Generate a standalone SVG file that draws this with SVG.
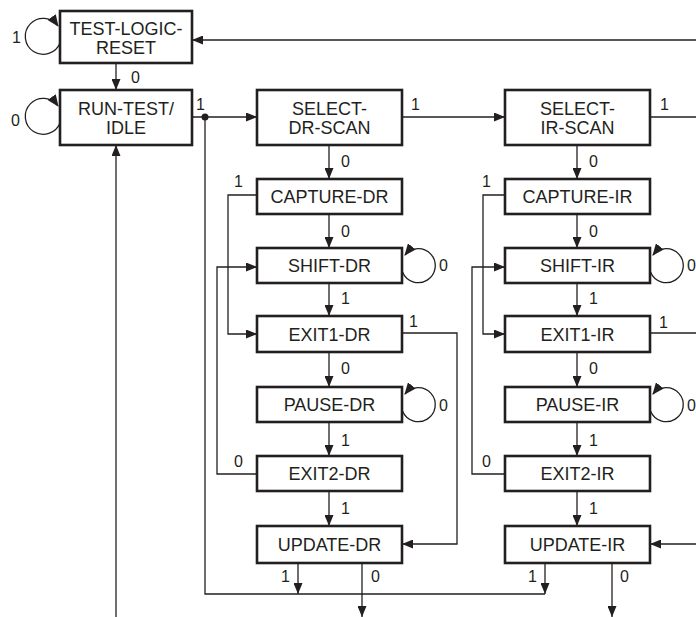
<svg xmlns="http://www.w3.org/2000/svg" width="696" height="617" viewBox="0 0 696 617">
<style>
.box{fill:#fff;stroke:#231f20;stroke-width:2.6}
.t{font-family:"Liberation Sans",Arial,sans-serif;font-size:18px;fill:#231f20;text-anchor:middle}
.l{font-family:"Liberation Sans",Arial,sans-serif;font-size:16px;fill:#231f20}
.c{fill:none;stroke:#231f20;stroke-width:1.3}
</style>
<defs>
<marker id="a" markerUnits="userSpaceOnUse" markerWidth="11" markerHeight="9" refX="11" refY="4.5" orient="auto">
<path d="M0,0 L11,4.5 L0,9 z" fill="#231f20"/>
</marker>
<marker id="b" markerUnits="userSpaceOnUse" markerWidth="12" markerHeight="10" refX="11" refY="5" orient="auto">
<path d="M0,0 L12,5 L0,10 z" fill="#231f20"/>
</marker>
</defs>
<rect width="696" height="617" fill="#fff"/>
<g id="connectors">
<!-- self loops -->
<path class="c" d="M60,43 A18 18 0 1 1 58,26" marker-end="url(#b)"/>
<path class="c" d="M60,123 A18 18 0 1 1 58,106" marker-end="url(#b)"/>
<path class="c" d="M402.5,272 A17 17 0 1 0 405,255" marker-end="url(#b)"/>
<path class="c" d="M402.5,411 A17 17 0 1 0 405,394" marker-end="url(#b)"/>
<path class="c" d="M650.5,272 A17 17 0 1 0 653,255" marker-end="url(#b)"/>
<path class="c" d="M650.5,411 A17 17 0 1 0 653,394" marker-end="url(#b)"/>
<!-- TLR -> RTI -->
<path class="c" d="M116,63 V90" marker-end="url(#a)"/>
<!-- top return -->
<path class="c" d="M696,40 H192" marker-end="url(#a)"/>
<!-- RTI -> SELECT-DR -->
<path class="c" d="M192,117 H257" marker-end="url(#a)"/>
<circle cx="205" cy="117" r="3.5" fill="#231f20"/>
<path class="c" d="M205,117 V594 H545"/>
<!-- SELECT-DR -> SELECT-IR -->
<path class="c" d="M402,117 H505" marker-end="url(#a)"/>
<path class="c" d="M650,117 H696"/>
<!-- DR column -->
<path class="c" d="M329,145 V179" marker-end="url(#a)"/>
<path class="c" d="M329,214 V248" marker-end="url(#a)"/>
<path class="c" d="M329,283 V316" marker-end="url(#a)"/>
<path class="c" d="M329,352 V387" marker-end="url(#a)"/>
<path class="c" d="M329,422 V456" marker-end="url(#a)"/>
<path class="c" d="M329,491 V526" marker-end="url(#a)"/>
<path class="c" d="M257,195 H228 V334 H257" marker-end="url(#a)"/>
<path class="c" d="M257,474 H217 V267 H257" marker-end="url(#a)"/>
<path class="c" d="M402,333 H457 V544 H402" marker-end="url(#a)"/>
<path class="c" d="M298,563 V594" marker-end="url(#a)"/>
<path class="c" d="M362,563 V617" marker-end="url(#a)"/>
<!-- IR column -->
<path class="c" d="M577,145 V179" marker-end="url(#a)"/>
<path class="c" d="M577,214 V248" marker-end="url(#a)"/>
<path class="c" d="M577,283 V316" marker-end="url(#a)"/>
<path class="c" d="M577,352 V387" marker-end="url(#a)"/>
<path class="c" d="M577,422 V456" marker-end="url(#a)"/>
<path class="c" d="M577,491 V526" marker-end="url(#a)"/>
<path class="c" d="M505,195 H483 V334 H505" marker-end="url(#a)"/>
<path class="c" d="M505,474 H472 V267 H505" marker-end="url(#a)"/>
<path class="c" d="M650,333 H696"/>
<path class="c" d="M696,544 H650" marker-end="url(#a)"/>
<path class="c" d="M545,563 V594" marker-end="url(#a)"/>
<path class="c" d="M612,563 V617" marker-end="url(#a)"/>
<!-- return to RTI -->
<path class="c" d="M116,617 V145" marker-end="url(#a)"/>
<!-- labels -->
<text class="l" x="12" y="43">1</text>
<text class="l" x="11" y="126">0</text>
<text class="l" x="131" y="83">0</text>
<text class="l" x="196" y="110">1</text>
<text class="l" x="411" y="110">1</text>
<text class="l" x="660" y="110">1</text>
<text class="l" x="341" y="167">0</text>
<text class="l" x="341" y="237">0</text>
<text class="l" x="341" y="304">1</text>
<text class="l" x="341" y="374">0</text>
<text class="l" x="341" y="446">1</text>
<text class="l" x="341" y="514">1</text>
<text class="l" x="589" y="167">0</text>
<text class="l" x="589" y="237">0</text>
<text class="l" x="589" y="304">1</text>
<text class="l" x="589" y="374">0</text>
<text class="l" x="589" y="446">1</text>
<text class="l" x="589" y="514">1</text>
<text class="l" x="439" y="271">0</text>
<text class="l" x="439" y="411">0</text>
<text class="l" x="687" y="271">0</text>
<text class="l" x="687" y="411">0</text>
<text class="l" x="234" y="187">1</text>
<text class="l" x="482" y="187">1</text>
<text class="l" x="234" y="467">0</text>
<text class="l" x="482" y="467">0</text>
<text class="l" x="409" y="327">1</text>
<text class="l" x="659" y="328">1</text>
<text class="l" x="281" y="582">1</text>
<text class="l" x="371" y="582">0</text>
<text class="l" x="528" y="582">1</text>
<text class="l" x="620" y="582">0</text>
</g>
<g id="test-logic-reset"><rect class="box" x="60" y="11" width="132" height="52"/><text class="t" x="126" y="34.5">TEST-LOGIC-</text><text class="t" x="126" y="53.5">RESET</text></g>
<g id="run-test-idle"><rect class="box" x="60" y="90" width="132" height="55"/><text class="t" x="126" y="115">RUN-TEST/</text><text class="t" x="126" y="134">IDLE</text></g>
<g id="select-dr-scan"><rect class="box" x="257" y="90" width="145" height="55"/><text class="t" x="329.5" y="115">SELECT-</text><text class="t" x="329.5" y="134">DR-SCAN</text></g>
<g id="capture-dr"><rect class="box" x="257" y="179" width="145" height="35"/><text class="t" x="329.5" y="203">CAPTURE-DR</text></g>
<g id="shift-dr"><rect class="box" x="257" y="248" width="145" height="35"/><text class="t" x="329.5" y="272">SHIFT-DR</text></g>
<g id="exit1-dr"><rect class="box" x="257" y="316" width="145" height="36"/><text class="t" x="329.5" y="340.5">EXIT1-DR</text></g>
<g id="pause-dr"><rect class="box" x="257" y="387" width="145" height="35"/><text class="t" x="329.5" y="411">PAUSE-DR</text></g>
<g id="exit2-dr"><rect class="box" x="257" y="456" width="145" height="35"/><text class="t" x="329.5" y="480">EXIT2-DR</text></g>
<g id="update-dr"><rect class="box" x="257" y="526" width="145" height="37"/><text class="t" x="329.5" y="551">UPDATE-DR</text></g>
<g id="select-ir-scan"><rect class="box" x="505" y="90" width="145" height="55"/><text class="t" x="577.5" y="115">SELECT-</text><text class="t" x="577.5" y="134">IR-SCAN</text></g>
<g id="capture-ir"><rect class="box" x="505" y="179" width="145" height="35"/><text class="t" x="577.5" y="203">CAPTURE-IR</text></g>
<g id="shift-ir"><rect class="box" x="505" y="248" width="145" height="35"/><text class="t" x="577.5" y="272">SHIFT-IR</text></g>
<g id="exit1-ir"><rect class="box" x="505" y="316" width="145" height="36"/><text class="t" x="577.5" y="340.5">EXIT1-IR</text></g>
<g id="pause-ir"><rect class="box" x="505" y="387" width="145" height="35"/><text class="t" x="577.5" y="411">PAUSE-IR</text></g>
<g id="exit2-ir"><rect class="box" x="505" y="456" width="145" height="35"/><text class="t" x="577.5" y="480">EXIT2-IR</text></g>
<g id="update-ir"><rect class="box" x="505" y="526" width="145" height="37"/><text class="t" x="577.5" y="551">UPDATE-IR</text></g>
</svg>
